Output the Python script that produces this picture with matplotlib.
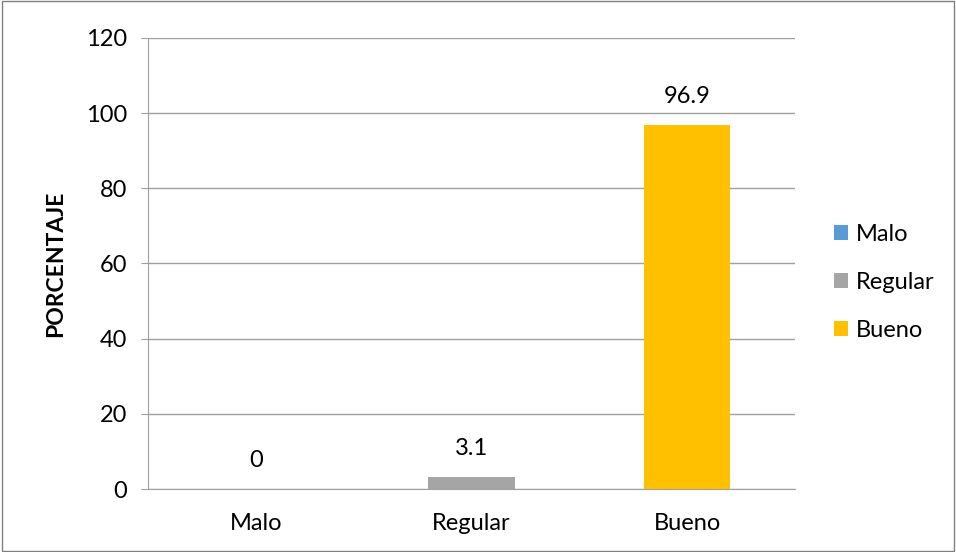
import matplotlib.pyplot as plt
from matplotlib.patches import Rectangle

plt.rcParams['font.family'] = ['Lato', 'DejaVu Sans']

categorias = ['Malo', 'Regular', 'Bueno']
porcentajes = [0, 3.1, 96.9]
colores = ['#5b9bd5', '#a5a5a5', '#ffc000']
y_ticks = [0, 20, 40, 60, 80, 100, 120]

fig = plt.figure(figsize=(9.56, 5.52), dpi=100)
ax = fig.add_axes([0.1548, 0.1141, 0.6768, 0.8171])

x = range(len(categorias))
barras = ax.bar(x, porcentajes, width=0.4, color=colores, label=categorias, zorder=3)

# etiquetas de valor sobre cada barra
for xi, v in zip(x, porcentajes):
    ax.text(xi, v + 4.8, f'{v:g}', ha='center', va='bottom', fontsize=17, color='#000000')

ax.set_xlim(-0.5, 2.5)
ax.set_ylim(0, 120)
ax.set_yticks(y_ticks)
ax.set_xticks(list(x))
ax.set_xticklabels(categorias, fontsize=17)
ax.tick_params(axis='y', labelsize=17, length=5, color='#a0a0a0', pad=10)
ax.tick_params(axis='x', length=0, pad=17)
ax.grid(axis='y', color='#a0a0a0', linewidth=1, zorder=0)

for lado in ['top', 'right']:
    ax.spines[lado].set_visible(False)
ax.spines['left'].set_color('#a0a0a0')
ax.spines['bottom'].set_color('#a0a0a0')

ax.set_ylabel('PORCENTAJE', fontsize=16.5, fontweight='bold', labelpad=14)

fig.legend(handles=barras.patches, labels=categorias, loc='center left',
           bbox_to_anchor=(0.872, 0.488), bbox_transform=fig.transFigure,
           frameon=False, fontsize=17, borderpad=0, borderaxespad=0,
           handlelength=0.6, handleheight=0.6, handletextpad=0.35,
           labelspacing=1.15)

# marco exterior
fig.patches.append(Rectangle((0.002, 0.002), 0.996, 0.996, transform=fig.transFigure,
                             fill=False, edgecolor='#808080', linewidth=1))

fig.savefig('out.png', dpi=100)
